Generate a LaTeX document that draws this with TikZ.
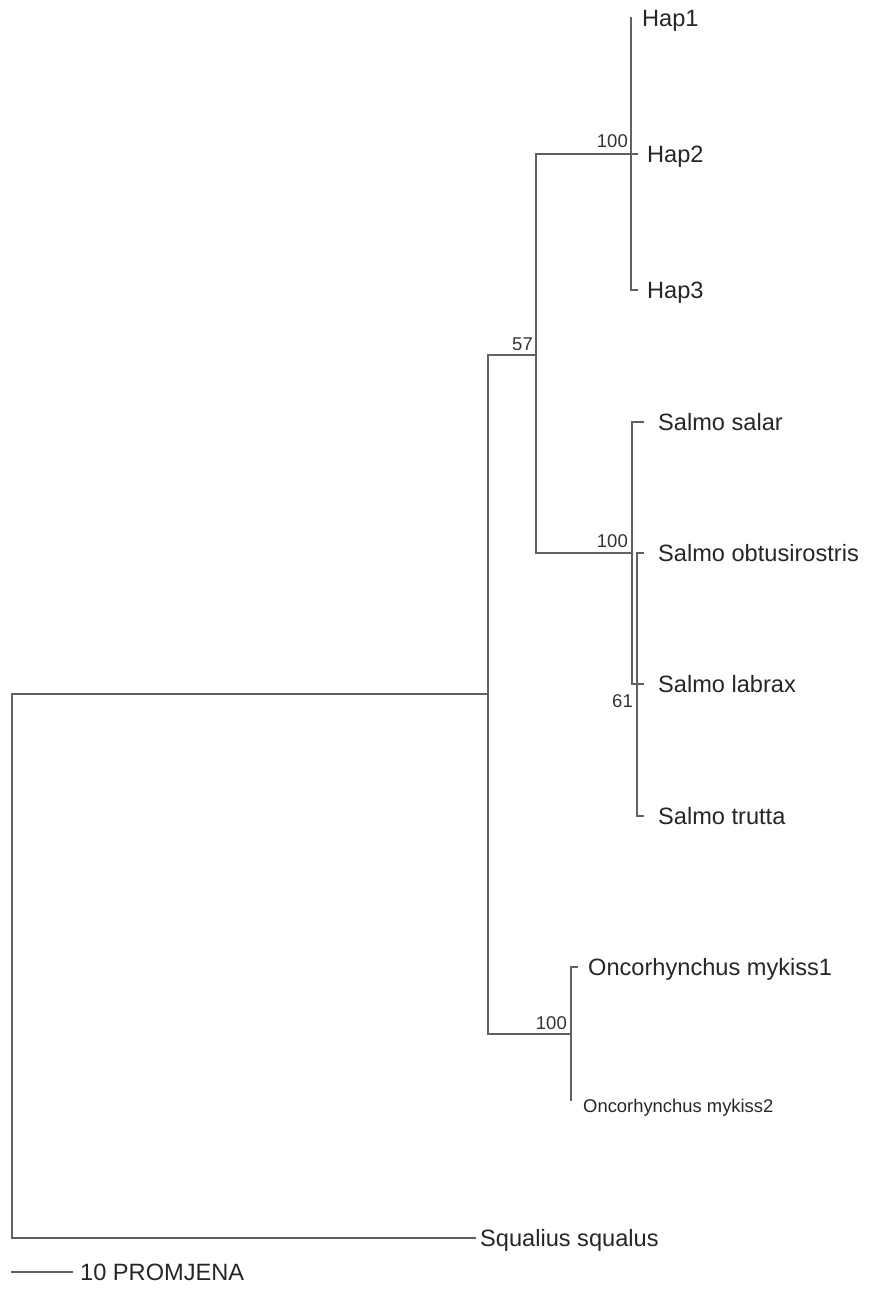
\documentclass[tikz,border=0pt]{standalone}
\usepackage{fontspec}
\setmainfont{Liberation Sans}
\begin{document}
\begin{tikzpicture}[x=1pt,y=-1pt,
  branch/.style={draw=black!62, line width=1.6pt, line cap=rect},
  taxon/.style={anchor=base west, inner sep=0pt, font=\fontsize{23.6}{28}\selectfont, text=black!85},
  smalltaxon/.style={anchor=base west, inner sep=0pt, font=\fontsize{18.4}{22}\selectfont, text=black!85},
  support/.style={anchor=base east, inner sep=0pt, font=\fontsize{18.5}{22}\selectfont, text=black!80}]
\useasboundingbox (0,0) rectangle (869,1291);
% internal nodes
\coordinate (nR) at (12,966);
\coordinate (nA) at (488,694);
\coordinate (n57) at (536,355);
\coordinate (nH) at (631,154);
\coordinate (nS) at (632,553);
\coordinate (n61) at (637,684);
\coordinate (nO) at (571,1034);
% tips
\coordinate (tH1) at (631,18);
\coordinate (tH2) at (637,154);
\coordinate (tH3) at (637,290);
\coordinate (tSal) at (643,422);
\coordinate (tObt) at (643,553);
\coordinate (tLab) at (643,684);
\coordinate (tTru) at (643,816);
\coordinate (tM1) at (577,967);
\coordinate (tM2) at (571,1100);
\coordinate (tSq) at (475,1238);
% branches
\draw[branch] (nR) |- (nA);
\draw[branch] (nR) |- (tSq);
\draw[branch] (nA) |- (n57);
\draw[branch] (nA) |- (nO);
\draw[branch] (n57) |- (nH);
\draw[branch] (n57) |- (nS);
\draw[branch] (nH) |- (tH1);
\draw[branch] (nH) |- (tH2);
\draw[branch] (nH) |- (tH3);
\draw[branch] (nS) |- (tSal);
\draw[branch] (nS) |- (n61);
\draw[branch] (n61) |- (tObt);
\draw[branch] (n61) |- (tLab);
\draw[branch] (n61) |- (tTru);
\draw[branch] (nO) |- (tM1);
\draw[branch] (nO) |- (tM2);
% taxon labels
\node[taxon] (lH1) at (642,26.5) {Hap1};
\node[taxon] (lH2) at (647,162.5) {Hap2};
\node[taxon] (lH3) at (647,298.5) {Hap3};
\node[taxon] (lSal) at (658,430.5) {Salmo salar};
\node[taxon] (lObt) at (658,561.5) {Salmo obtusirostris};
\node[taxon] (lLab) at (658,692.5) {Salmo labrax};
\node[taxon] (lTru) at (658,824.5) {Salmo trutta};
\node[taxon] (lM1) at (588,975.5) {Oncorhynchus mykiss1};
\node[smalltaxon] (lM2) at (583,1112) {Oncorhynchus mykiss2};
\node[taxon] (lSq) at (480,1246.5) {Squalius squalus};
% support values
\node[support] (sH) at (628,147) {100};
\node[support] (s57) at (533,350) {57};
\node[support] (sS) at (628,547) {100};
\node[support] (s61) at (633,707) {61};
\node[support] (sO) at (567,1029) {100};
% scale bar
\coordinate (sb0) at (12,1272);
\coordinate (sb1) at (72,1272);
\draw[branch, line width=1.4pt] (sb0) -- (sb1);
\node[taxon] (sbl) at (80,1280.5) {10 PROMJENA};
\end{tikzpicture}
\end{document}
